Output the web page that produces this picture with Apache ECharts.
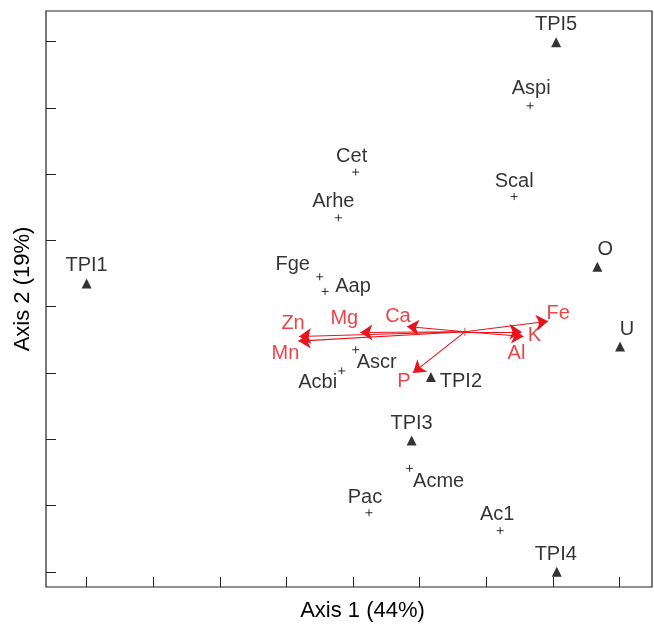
<!DOCTYPE html>
<html>
<head>
<meta charset="utf-8">
<script src="https://cdn.jsdelivr.net/npm/echarts@6/dist/echarts.min.js"></script>
<style>html,body{margin:0;padding:0;background:#fff}#chart{width:654px;height:627px}</style>
</head>
<body>
<div id="chart"></div>
<script>
// ---- data (ordination scores, axis units = tick spacing) ----
const siteNames = ['TPI1', 'TPI2', 'TPI3', 'TPI4', 'TPI5', 'O', 'U'];
const siteX = [0.00, 5.17, 4.88, 7.06, 7.05, 7.67, 8.01];
const siteY = [4.35, 2.94, 1.98, 0.00, 7.99, 4.60, 3.40];

const speciesNames = ['Cet', 'Arhe', 'Fge', 'Aap', 'Aspi', 'Scal', 'Ascr', 'Acbi', 'Acme', 'Pac', 'Ac1'];
const speciesX = [4.04, 3.78, 3.50, 3.58, 6.66, 6.42, 4.04, 3.83, 4.85, 4.24, 6.21];
const speciesY = [6.03, 5.34, 4.45, 4.23, 7.03, 5.66, 3.35, 3.03, 1.56, 0.89, 0.62];

const envNames = ['Fe', 'K', 'Al', 'Ca', 'Mg', 'Zn', 'Mn', 'P'];
const envX = [6.93, 6.53, 6.56, 4.81, 4.11, 3.19, 3.18, 4.90];
const envY = [3.78, 3.62, 3.55, 3.70, 3.61, 3.55, 3.48, 3.00];
const envOrigin = [5.68, 3.62];

const xTicks = [0, 1, 2, 3, 4, 5, 6, 7, 8];
const yTicks = [0, 1, 2, 3, 4, 5, 6, 7, 8];

// ---- styles: label offsets in pixels ----
const labelOffset = {
  TPI1: [0, -18], TPI2: [30, 5], TPI3: [0, -17], TPI4: [-1, -17], TPI5: [0, -18],
  O: [8, -17], U: [7, -17],
  Cet: [-4, -16], Arhe: [-5, -16], Fge: [-27, -12], Aap: [28, -5], Aspi: [1, -17],
  Scal: [0, -15], Ascr: [21, 13], Acbi: [-24, 12], Acme: [29, 13], Pac: [-4, -15], Ac1: [-3, -16],
  Fe: [10, -8], K: [13, 4], Al: [-7, 17], Ca: [-9, -10], Mg: [-16, -14], Zn: [-6, -13],
  Mn: [-13, 12], P: [-9, 9]
};
const RED = '#e8141c';
const FONT = 'Liberation Sans, Arial, sans-serif';

function pts(names, xs, ys) {
  return names.map((n, i) => ({
    name: n, value: [xs[i], ys[i]],
    label: { offset: labelOffset[n] }
  }));
}

const chart = echarts.init(document.getElementById('chart'), null, { renderer: 'canvas' });
chart.setOption({
  animation: false,
  backgroundColor: '#fff',
  grid: { left: 46, right: 2, top: 11, bottom: 36.5, show: true, borderColor: '#222', borderWidth: 1.2, backgroundColor: 'transparent' },
  xAxis: {
    type: 'value', min: -0.61, max: 8.49,
    axisLine: { show: false, onZero: false },
    axisTick: { show: true, inside: true, length: 10, customValues: xTicks, lineStyle: { color: '#222', width: 1 } },
    axisLabel: { show: false },
    splitLine: { show: false },
    name: 'Axis 1 (44%)', nameLocation: 'middle', nameGap: 13,
    nameTextStyle: { fontFamily: FONT, fontSize: 22, color: '#000', padding: [0, 0, 0, 27] }
  },
  yAxis: {
    type: 'value', min: -0.23, max: 8.46,
    axisLine: { show: false, onZero: false },
    axisTick: { show: true, inside: true, length: 10, customValues: yTicks, lineStyle: { color: '#222', width: 1 } },
    axisLabel: { show: false },
    splitLine: { show: false },
    name: 'Axis 2 (19%)', nameLocation: 'middle', nameGap: 12,
    nameTextStyle: { fontFamily: FONT, fontSize: 22, color: '#000', padding: [0, 0, 0, 20] }
  },
  series: [
    {
      type: 'lines', coordinateSystem: 'cartesian2d', silent: true,
      symbol: ['none', 'arrow'], symbolSize: 12,
      lineStyle: { color: RED, width: 1.1, opacity: 1 },
      data: envNames.map((n, i) => ({ coords: [envOrigin, [envX[i], envY[i]]] }))
    },
    {
      type: 'scatter', symbol: 'path://M0,5 L10,5 M5,0 L5,10', symbolSize: 8,
      itemStyle: { color: 'transparent', borderColor: RED, borderWidth: 1 },
      data: [envOrigin]
    },
    {
      type: 'scatter', symbolSize: 0,
      label: { show: true, position: 'inside', formatter: '{b}', fontFamily: FONT, fontSize: 20, color: RED },
      data: pts(envNames, envX, envY)
    },
    {
      type: 'scatter', symbol: 'path://M0,5 L10,5 M5,0 L5,10', symbolSize: 7,
      itemStyle: { color: 'transparent', borderColor: '#000', borderWidth: 1 },
      label: { show: true, position: 'inside', formatter: '{b}', fontFamily: FONT, fontSize: 20, color: '#000' },
      data: pts(speciesNames, speciesX, speciesY)
    },
    {
      type: 'scatter', symbol: 'triangle', symbolSize: 10,
      itemStyle: { color: '#000' },
      label: { show: true, position: 'inside', formatter: '{b}', fontFamily: FONT, fontSize: 20, color: '#000' },
      data: pts(siteNames, siteX, siteY)
    }
  ]
});
</script>
</body>
</html>
